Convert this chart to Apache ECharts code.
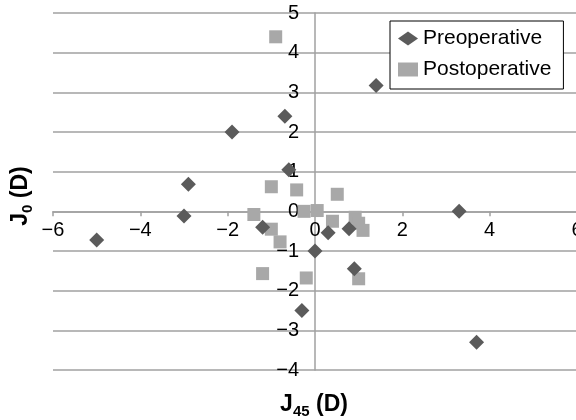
<!DOCTYPE html>
<html>
<head>
<meta charset="utf-8">
<script src="https://cdn.jsdelivr.net/npm/echarts@6/dist/echarts.min.js"></script>
<style>
html,body{margin:0;padding:0;background:#fff;}
#chart{width:576px;height:420px;}
</style>
</head>
<body>
<div id="chart"></div>
<script>
// Data: [J45, J0] in diopters
var preoperative = [
  [-5.0, -0.72], [-2.9, 0.68], [-3.0, -0.12], [-1.9, 2.0], [-0.69, 2.4],
  [-0.6, 1.05], [1.4, 3.17], [3.3, 0.0], [3.7, -3.3], [-0.3, -2.5],
  [0.0, -1.0], [-1.2, -0.4], [0.3, -0.54], [0.78, -0.44], [0.9, -1.45]
];
var postoperative = [
  [-0.9, 4.4], [-1.0, 0.62], [-0.42, 0.54], [0.51, 0.43], [-1.4, -0.08],
  [-0.25, 0.0], [0.05, 0.02], [-1.0, -0.45], [-0.8, -0.77], [0.4, -0.25],
  [0.92, -0.15], [1.0, -0.3], [1.1, -0.48], [-1.2, -1.57], [-0.2, -1.68], [1.0, -1.7]
];
var seriesNames = ['Preoperative', 'Postoperative'];
var xTicks = {min: -6, max: 6, interval: 2};
var yTicks = {min: -4, max: 5, interval: 1};

var FONT = 'Liberation Sans, Arial, sans-serif';
var GRID = '#a0a0a0';
var GL = 53, GT = 13, GW = 524, GH = 357;
var chart = echarts.init(document.getElementById('chart'));

var richTitle = {
  b: {fontSize: 23, fontWeight: 'bold', fontFamily: FONT, color: '#000', lineHeight: 28},
  s: {fontSize: 15, fontWeight: 'bold', fontFamily: FONT, color: '#000', lineHeight: 12, verticalAlign: 'bottom'}
};
function fmt(v) { return v < 0 ? '\u2212' + Math.abs(v) : String(v); }

chart.setOption({
  animation: false,
  backgroundColor: '#fff',
  grid: {left: GL, top: GT, width: GW, height: GH, containLabel: false, outerBoundsMode: 'none'},
  legend: {
    orient: 'vertical',
    left: 390, top: 21,
    padding: [7, 12, 9, 8],
    itemGap: 10,
    itemWidth: 20, itemHeight: 14,
    borderColor: '#000', borderWidth: 1,
    backgroundColor: '#fff',
    textStyle: {fontSize: 21, fontFamily: FONT, color: '#000', lineHeight: 21},
    data: [{name: seriesNames[0], icon: 'diamond'}, {name: seriesNames[1], icon: 'rect'}]
  },
  xAxis: {
    type: 'value', position: 'bottom',
    min: xTicks.min, max: xTicks.max, interval: xTicks.interval,
    axisLine: {show: true, onZero: false, lineStyle: {color: GRID, width: 1.5}},
    axisTick: {show: true, inside: false, length: 5, lineStyle: {color: GRID, width: 1.5}},
    axisLabel: {margin: 9, fontSize: 20, fontFamily: FONT, color: '#000', showMinLabel: true, showMaxLabel: true, hideOverlap: false, formatter: fmt},
    splitLine: {show: false}
  },
  yAxis: {
    type: 'value', position: 'left',
    min: yTicks.min, max: yTicks.max, interval: yTicks.interval,
    axisLine: {show: true, onZero: false, lineStyle: {color: GRID, width: 1.5}},
    axisTick: {show: false},
    axisLabel: {margin: 16, fontSize: 20, fontFamily: FONT, color: '#000', showMinLabel: true, showMaxLabel: true, hideOverlap: false, formatter: fmt},
    splitLine: {show: true, lineStyle: {color: GRID, width: 1.5}}
  },
  series: [
    {
      name: seriesNames[0], type: 'scatter', symbol: 'diamond', symbolSize: 15,
      itemStyle: {color: '#5b5b5b', opacity: 1},
      data: preoperative, z: 3
    },
    {
      name: seriesNames[1], type: 'scatter', symbol: 'rect', symbolSize: 13,
      itemStyle: {color: '#a8a8a8', opacity: 1},
      data: postoperative, z: 2
    }
  ],
  graphic: [
    {
      type: 'text', x: 314, y: 405,
      style: {text: '{b|J}{s|45}{b| (D)}', rich: richTitle, align: 'center', verticalAlign: 'middle', textAlign: 'center', textVerticalAlign: 'middle'}
    },
    {
      type: 'text', x: 21, y: 196, rotation: Math.PI / 2,
      style: {text: '{b|J}{s|0}{b| (D)}', rich: richTitle, align: 'center', verticalAlign: 'middle', textAlign: 'center', textVerticalAlign: 'middle'}
    }
  ]
});

// Move both axes so they cross at the origin (0, 0)
var origin = chart.convertToPixel({gridIndex: 0}, [0, 0]);
chart.setOption({
  xAxis: {offset: -((GT + GH) - origin[1])},
  yAxis: {offset: -(origin[0] - GL)}
});
</script>
</body>
</html>
